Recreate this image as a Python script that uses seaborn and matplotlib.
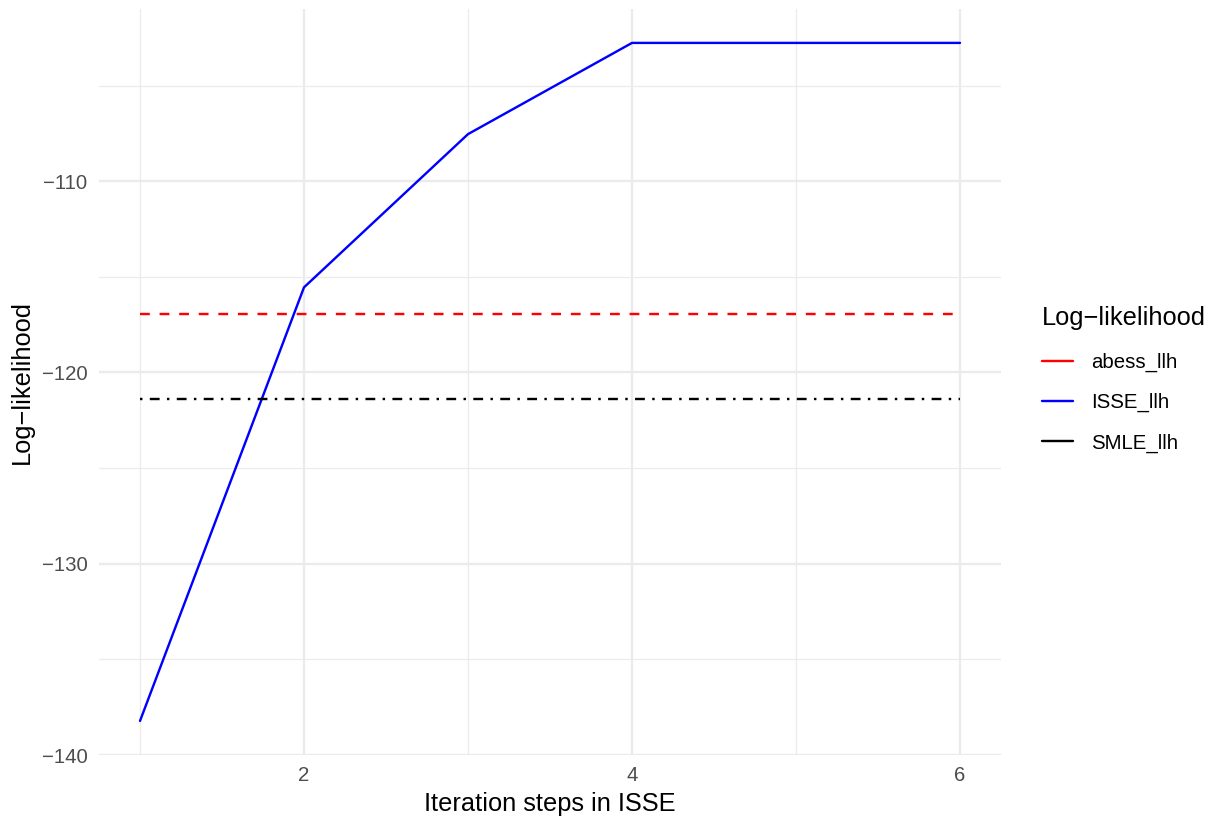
import matplotlib
matplotlib.use("Agg")
import matplotlib.pyplot as plt
from matplotlib.lines import Line2D
import seaborn as sns
import pandas as pd

# ---- data ----
steps = [1, 2, 3, 4, 5, 6]
isse_llh = [-138.22, -115.55, -107.54, -102.77, -102.77, -102.77]
abess_llh = [-116.96] * 6
smle_llh = [-121.41] * 6
series_names = ["abess_llh", "ISSE_llh", "SMLE_llh"]
series_colors = ["#FF0000", "#0000FF", "#000000"]
x_ticks = [2, 4, 6]
y_ticks = [-140, -130, -120, -110]

df = pd.DataFrame({
    "step": steps * 3,
    "value": abess_llh + isse_llh + smle_llh,
    "series": ["abess_llh"] * 6 + ["ISSE_llh"] * 6 + ["SMLE_llh"] * 6,
})

sns.set_theme(style="white")
plt.rcParams["font.family"] = ["Liberation Sans", "DejaVu Sans"]
plt.rcParams["lines.scale_dashes"] = False
plt.rcParams["text.color"] = "black"

dpi = 150
fig = plt.figure(figsize=(1211 / dpi, 816 / dpi), dpi=dpi)
ax = fig.add_axes([99 / 1211, 1 - 755 / 816, (1001 - 99) / 1211, (755 - 9) / 816])

lw = 1.15
sns.lineplot(data=df, x="step", y="value", hue="series", style="series",
             palette=dict(zip(series_names, series_colors)),
             dashes={"abess_llh": (4.7, 4.7), "ISSE_llh": "",
                     "SMLE_llh": (1.18, 3.53, 4.7, 3.53)},
             linewidth=lw, legend=False, ax=ax, zorder=3)

xmin, xmax = 1 - 0.25, 6 + 0.25
rng = max(isse_llh) - min(isse_llh)
ymin, ymax = min(isse_llh) - 0.05 * rng, max(isse_llh) + 0.05 * rng
ax.set_xlim(xmin, xmax)
ax.set_ylim(ymin, ymax)

grid_col = "#EBEBEB"
ax.set_xticks(x_ticks)
ax.set_yticks(y_ticks)
ax.set_xticks([1, 3, 5], minor=True)
ax.set_yticks([-135, -125, -115, -105], minor=True)
ax.grid(True, which="major", color=grid_col, linewidth=1.15, zorder=0)
ax.grid(True, which="minor", color=grid_col, linewidth=0.58, zorder=0)
ax.set_axisbelow(True)
for s in ax.spines.values():
    s.set_visible(False)
ax.tick_params(which="both", length=0)
ax.tick_params(axis="both", labelsize=9.8, labelcolor="#4D4D4D", pad=5.5)

ax.set_xlabel("Iteration steps in ISSE", fontsize=12.2, color="black", labelpad=3)
ax.set_ylabel("Log\u2212likelihood", fontsize=12.2, color="black", labelpad=4)

handles = [Line2D([0], [0], color=c, linewidth=lw) for c in series_colors]
leg = ax.legend(handles, series_names, title="Log\u2212likelihood",
                loc="center left", bbox_to_anchor=(1042 / 1211, 1 - 379.5 / 816),
                bbox_transform=fig.transFigure,
                frameon=False, fontsize=9.8, title_fontsize=12.2,
                handlelength=1.52, handletextpad=0.88, labelspacing=1.02,
                alignment="left", borderaxespad=0, borderpad=0,
                labelcolor="black")
leg.get_title().set_color("black")
leg._legend_box.sep = 10.85

fig.savefig("out.png", dpi=dpi)
